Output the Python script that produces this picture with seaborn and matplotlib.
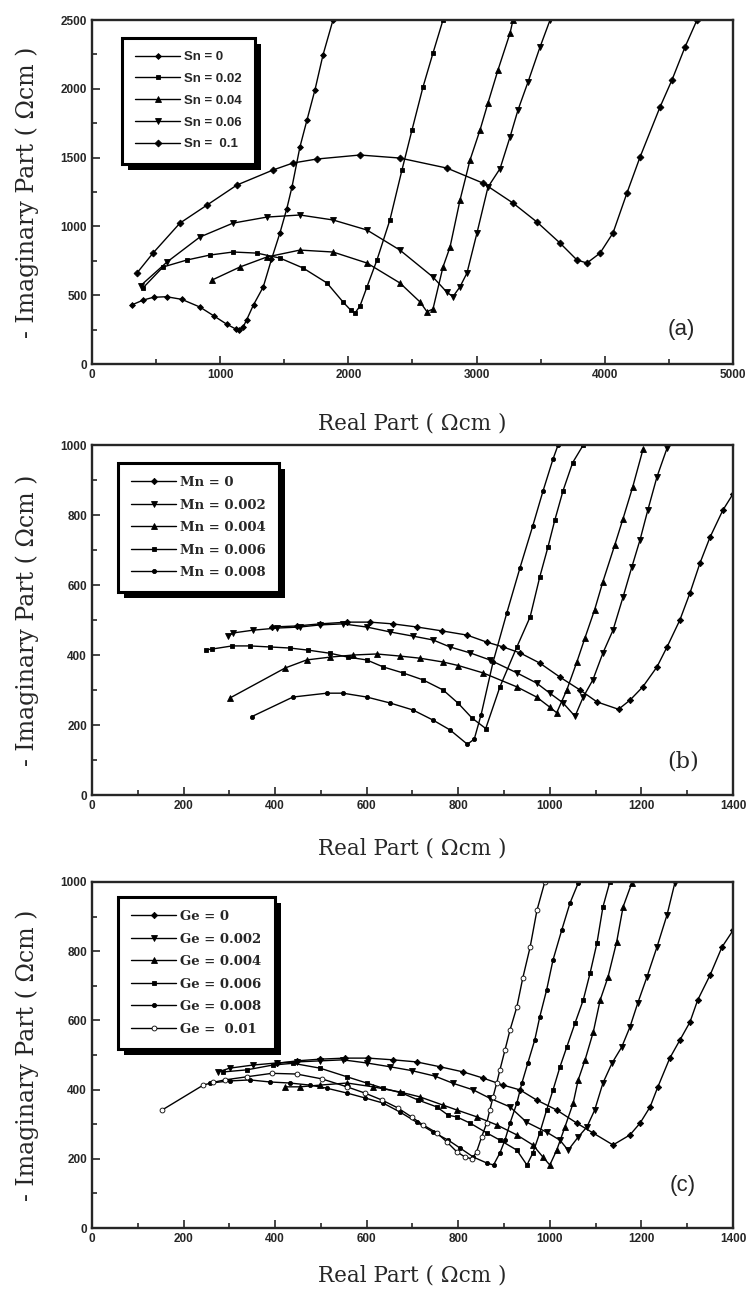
import matplotlib
matplotlib.use("Agg")
import matplotlib.pyplot as plt
from matplotlib.patches import Rectangle
import seaborn as sns

# ---- panel (a): Sn doping ----
sn_labels = ["Sn = 0", "Sn = 0.02", "Sn = 0.04", "Sn = 0.06", "Sn =  0.1"]
sn0_x = [310, 400, 480, 582, 700, 842, 950, 1050, 1120, 1150, 1180, 1206, 1260, 1336, 1400, 1466, 1520, 1560, 1622, 1677, 1739, 1802, 1880]
sn0_y = [429, 465, 485, 489, 470, 414, 350, 290, 255, 245, 270, 320, 430, 560, 760, 952, 1130, 1286, 1577, 1773, 1991, 2246, 2500]
sn002_x = [400, 554, 741, 920, 1100, 1287, 1466, 1646, 1833, 1958, 2020, 2051, 2090, 2145, 2223, 2324, 2418, 2496, 2582, 2660, 2738]
sn002_y = [555, 705, 756, 792, 814, 806, 770, 698, 589, 451, 390, 370, 420, 560, 756, 1047, 1410, 1700, 2013, 2260, 2500]
sn004_x = [936, 1154, 1365, 1622, 1880, 2145, 2402, 2560, 2613, 2660, 2738, 2793, 2871, 2949, 3027, 3089, 3167, 3261, 3284]
sn004_y = [610, 705, 778, 828, 814, 734, 589, 450, 380, 400, 705, 850, 1192, 1483, 1701, 1897, 2137, 2405, 2500]
sn006_x = [380, 585, 842, 1100, 1365, 1622, 1880, 2145, 2402, 2660, 2770, 2816, 2870, 2925, 3003, 3089, 3183, 3261, 3323, 3401, 3495, 3573]
sn006_y = [570, 741, 923, 1024, 1068, 1083, 1047, 974, 828, 632, 520, 490, 560, 661, 952, 1286, 1420, 1650, 1846, 2049, 2304, 2500]
sn01_x = [349, 476, 686, 897, 1131, 1412, 1568, 1755, 2090, 2402, 2769, 3050, 3284, 3471, 3651, 3783, 3861, 3963, 4064, 4173, 4275, 4431, 4524, 4626, 4719]
sn01_y = [659, 806, 1024, 1155, 1301, 1410, 1461, 1490, 1519, 1497, 1424, 1315, 1170, 1032, 879, 756, 734, 806, 952, 1243, 1504, 1868, 2064, 2304, 2500]

# ---- panel (b): Mn doping ----
mn_labels = ["Mn = 0", "Mn = 0.002", "Mn = 0.004", "Mn = 0.006", "Mn = 0.008"]
mn0_x = [393, 447, 498, 557, 607, 657, 710, 764, 819, 862, 898, 935, 978, 1022, 1066, 1103, 1150, 1175, 1203, 1234, 1256, 1284, 1306, 1328, 1350, 1378, 1400]
mn0_y = [480, 483, 489, 494, 494, 489, 480, 469, 457, 437, 423, 406, 377, 337, 300, 266, 245, 271, 309, 366, 423, 500, 577, 663, 737, 814, 860]
mn0002_x = [298, 308, 352, 404, 454, 498, 548, 600, 651, 701, 745, 782, 826, 869, 928, 971, 1000, 1029, 1055, 1073, 1094, 1116, 1138, 1160, 1179, 1197, 1214, 1234, 1256]
mn0002_y = [454, 463, 471, 477, 480, 486, 489, 480, 466, 454, 443, 423, 406, 386, 349, 320, 291, 263, 225, 280, 329, 406, 471, 566, 651, 729, 814, 909, 991]
mn0004_x = [301, 422, 469, 520, 570, 622, 673, 716, 767, 800, 854, 928, 971, 1000, 1015, 1037, 1059, 1077, 1098, 1116, 1142, 1160, 1181, 1204]
mn0004_y = [277, 363, 386, 394, 400, 403, 397, 391, 380, 370, 349, 309, 280, 251, 235, 300, 380, 450, 530, 610, 715, 790, 880, 990]
mn0006_x = [250, 262, 306, 345, 389, 432, 472, 520, 559, 600, 636, 679, 723, 767, 800, 830, 860, 891, 928, 957, 978, 996, 1011, 1029, 1050, 1073]
mn0006_y = [415, 417, 426, 426, 423, 420, 414, 405, 394, 386, 366, 349, 329, 300, 262, 220, 190, 309, 423, 509, 623, 709, 786, 870, 950, 1000]
mn0008_x = [349, 439, 513, 548, 600, 651, 701, 745, 782, 820, 835, 850, 876, 906, 935, 963, 985, 1007, 1018]
mn0008_y = [224, 280, 291, 291, 280, 263, 243, 214, 186, 145, 160, 230, 380, 520, 650, 770, 868, 960, 1000]

# ---- panel (c): Ge doping ----
ge_labels = ["Ge = 0", "Ge = 0.002", "Ge = 0.004", "Ge = 0.006", "Ge = 0.008", "Ge =  0.01"]
ge0_x = [404, 447, 498, 553, 603, 658, 709, 760, 811, 855, 898, 935, 971, 1015, 1059, 1094, 1138, 1175, 1197, 1219, 1236, 1262, 1284, 1306, 1323, 1350, 1376, 1400]
ge0_y = [476, 483, 488, 491, 491, 486, 480, 466, 451, 433, 413, 399, 370, 341, 303, 275, 240, 269, 303, 350, 408, 491, 543, 595, 659, 731, 812, 860]
ge0002_x = [275, 301, 352, 404, 447, 498, 548, 600, 651, 698, 749, 789, 833, 869, 913, 949, 993, 1022, 1040, 1062, 1081, 1098, 1116, 1136, 1157, 1175, 1192, 1212, 1234, 1256, 1273]
ge0002_y = [451, 462, 471, 477, 480, 483, 486, 477, 466, 455, 439, 418, 399, 375, 350, 306, 277, 254, 225, 263, 292, 341, 419, 477, 523, 581, 650, 725, 812, 905, 997]
ge0004_x = [422, 454, 498, 557, 614, 673, 716, 767, 797, 841, 884, 928, 963, 985, 1000, 1015, 1033, 1051, 1062, 1077, 1095, 1110, 1127, 1146, 1160, 1179]
ge0004_y = [408, 408, 413, 419, 408, 393, 379, 355, 341, 321, 298, 269, 240, 205, 182, 225, 292, 361, 428, 486, 567, 659, 725, 827, 928, 997]
ge0006_x = [286, 338, 395, 439, 498, 557, 600, 636, 677, 712, 753, 778, 797, 826, 862, 891, 928, 950, 963, 978, 993, 1007, 1022, 1037, 1055, 1073, 1088, 1103, 1116, 1131]
ge0006_y = [451, 457, 471, 476, 462, 437, 419, 404, 390, 370, 350, 326, 321, 303, 275, 254, 225, 182, 217, 275, 341, 399, 465, 523, 592, 659, 737, 824, 928, 1000]
ge0008_x = [258, 301, 345, 389, 432, 476, 513, 557, 596, 636, 673, 709, 745, 778, 804, 833, 862, 877, 891, 902, 913, 928, 939, 952, 967, 978, 993, 1007, 1026, 1044, 1062]
ge0008_y = [419, 425, 428, 422, 419, 413, 404, 390, 376, 361, 335, 306, 277, 254, 231, 205, 188, 182, 217, 254, 303, 361, 419, 477, 543, 610, 688, 775, 861, 939, 997]
ge001_x = [152, 243, 265, 290, 338, 393, 447, 502, 557, 596, 633, 668, 698, 723, 753, 775, 797, 815, 830, 840, 851, 862, 869, 876, 884, 891, 902, 913, 928, 941, 957, 972, 989]
ge001_y = [340, 413, 421, 428, 437, 447, 445, 431, 408, 390, 370, 347, 321, 298, 275, 249, 220, 205, 200, 220, 263, 303, 341, 379, 419, 457, 514, 572, 639, 723, 812, 919, 1000]

sns.set_style("ticks")
plt.rcParams['font.family'] = ['DejaVu Serif']

fig = plt.figure(figsize=(7.52, 12.94), dpi=100)
ax_a = fig.add_axes([0.1223, 0.7187, 0.8524, 0.2658])
ax_b = fig.add_axes([0.1223, 0.3856, 0.8524, 0.2705])
ax_c = fig.add_axes([0.1223, 0.0510, 0.8524, 0.2674])

tick_font = {'family': 'Liberation Sans', 'weight': 'bold', 'size': 8.5}
legends = []


def draw(ax, curves, labels, styles, legend_font, legend_anchor):
    for (x, y), lab, (mk, face, ms) in zip(curves, labels, styles):
        sns.lineplot(x=x, y=y, ax=ax, sort=False, estimator=None, color="black",
                     linewidth=1.0, marker=mk, markersize=ms, markerfacecolor=face,
                     markeredgecolor="black", markeredgewidth=0.6, label=lab)
    leg = ax.legend(loc="upper left", bbox_to_anchor=legend_anchor, frameon=True,
                    fancybox=False, shadow=False, framealpha=1,
                    edgecolor="black", prop=legend_font, handlelength=3.4,
                    labelspacing=0.72, borderpad=1.0, handletextpad=0.3,
                    borderaxespad=0)
    leg.get_frame().set_linewidth(2.2)
    legends.append((ax, leg))
    for s in ax.spines.values():
        s.set_linewidth(1.7)
        s.set_visible(True)
    ax.tick_params(which="both", direction="in", top=False, right=False, width=1.2)
    ax.tick_params(which="major", length=6)
    ax.tick_params(which="minor", length=3.5)
    for t in ax.get_xticklabels() + ax.get_yticklabels():
        t.set_fontproperties(tick_font)
    ax.set_xlabel("Real Part ( Ωcm )", fontsize=15.5)
    ax.set_ylabel("- Imaginary Part ( Ωcm )", fontsize=17)
    ax.xaxis.set_label_coords(0.5, -0.12)
    ax.yaxis.set_label_coords(-0.082, 0.5)


# panel (a)
ax_a.set_xlim(0, 5000)
ax_a.set_ylim(0, 2500)
ax_a.set_xticks(range(0, 5001, 1000))
ax_a.set_xticks(range(0, 5001, 500), minor=True)
ax_a.set_yticks(range(0, 2501, 500))
ax_a.set_yticks(range(0, 2501, 250), minor=True)
draw(ax_a,
     [(sn0_x, sn0_y), (sn002_x, sn002_y), (sn004_x, sn004_y), (sn006_x, sn006_y), (sn01_x, sn01_y)],
     sn_labels,
     [("D", "black", 3), ("s", "black", 3.2), ("^", "black", 4), ("v", "black", 4), ("D", "black", 3.5)],
     {'family': 'Liberation Sans', 'weight': 'bold', 'size': 9.5},
     (0.047, 0.948))
ax_a.text(0.92, 0.1, "(a)", transform=ax_a.transAxes, fontsize=16,
          family="Liberation Sans", ha="center", va="center")
ax_a.xaxis.set_label_coords(0.5, -0.14)

# panels (b) and (c) share the same scales
for ax in (ax_b, ax_c):
    ax.set_xlim(0, 1400)
    ax.set_ylim(0, 1000)
    ax.set_xticks(range(0, 1401, 200))
    ax.set_xticks(range(0, 1401, 100), minor=True)
    ax.set_yticks(range(0, 1001, 200))
    ax.set_yticks(range(0, 1001, 100), minor=True)

draw(ax_b,
     [(mn0_x, mn0_y), (mn0002_x, mn0002_y), (mn0004_x, mn0004_y), (mn0006_x, mn0006_y), (mn0008_x, mn0008_y)],
     mn_labels,
     [("D", "black", 3.2), ("v", "black", 4), ("^", "black", 4), ("s", "black", 3.2), ("o", "black", 3)],
     {'family': 'DejaVu Serif', 'weight': 'bold', 'size': 9.5},
     (0.041, 0.949))
ax_b.text(0.923, 0.097, "(b)", transform=ax_b.transAxes, fontsize=16,
          ha="center", va="center")

draw(ax_c,
     [(ge0_x, ge0_y), (ge0002_x, ge0002_y), (ge0004_x, ge0004_y), (ge0006_x, ge0006_y),
      (ge0008_x, ge0008_y), (ge001_x, ge001_y)],
     ge_labels,
     [("D", "black", 3.2), ("v", "black", 4), ("^", "black", 4), ("s", "black", 3.2),
      ("o", "black", 3), ("o", "white", 3.5)],
     {'family': 'DejaVu Serif', 'weight': 'bold', 'size': 9.5},
     (0.041, 0.957))
ax_c.text(0.922, 0.124, "(c)", transform=ax_c.transAxes, fontsize=16,
          family="Liberation Sans", ha="center", va="center")
ax_c.xaxis.set_label_coords(0.5, -0.105)

# solid black drop shadow behind each legend box
fig.canvas.draw()
for ax, leg in legends:
    bb = leg.get_window_extent().transformed(ax.transAxes.inverted())
    dx = 6 / ax.bbox.width
    dy = 6 / ax.bbox.height
    ax.add_patch(Rectangle((bb.x0 + dx, bb.y0 - dy), bb.width, bb.height,
                           transform=ax.transAxes, facecolor="black",
                           edgecolor="none", zorder=4.9, clip_on=False))

fig.savefig("out.png", dpi=100)
